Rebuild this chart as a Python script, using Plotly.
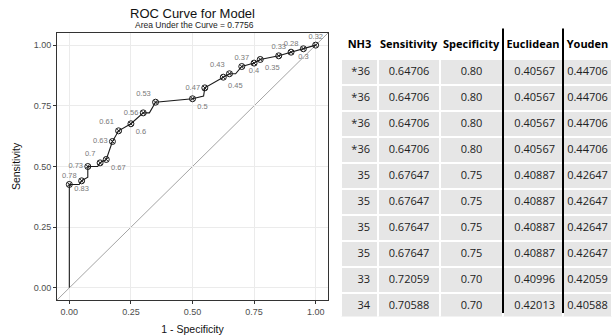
import plotly.graph_objects as go

# ---------------- data ----------------
# ROC path (1 - specificity, sensitivity)
roc_fpr = [0, 0, 0.04, 0.05, 0.075, 0.075, 0.115, 0.125, 0.15, 0.175, 0.2, 0.25, 0.3, 0.325,
           0.35, 0.5, 0.545, 0.55, 0.625, 0.65, 0.675, 0.7, 0.75, 0.775, 0.85, 0.9, 0.95, 1.0]
roc_tpr = [0, 0.426, 0.426, 0.441, 0.456, 0.5, 0.5, 0.515, 0.529, 0.603, 0.647, 0.676, 0.721, 0.721,
           0.765, 0.779, 0.79, 0.824, 0.868, 0.882, 0.882, 0.912, 0.926, 0.941, 0.956, 0.971, 0.985, 1.0]

# cutoff points
pt_fpr = [0, 0.05, 0.075, 0.125, 0.15, 0.175, 0.2, 0.25, 0.3, 0.35, 0.5,
          0.55, 0.625, 0.65, 0.7, 0.75, 0.775, 0.85, 0.9, 0.95, 1.0]
pt_tpr = [0.426, 0.441, 0.5, 0.515, 0.529, 0.603, 0.647, 0.676, 0.721, 0.765, 0.779,
          0.824, 0.868, 0.882, 0.912, 0.926, 0.941, 0.956, 0.971, 0.985, 1.0]
pt_label = ["0.78", "0.83", "0.73", "0.7", "0.67", "0.63", "0.61", "0.6", "0.56", "0.53", "0.5",
            "0.47", "0.45", "0.43", "0.37", "0.4", "0.35", "0.33", "0.28", "0.3", "0.32"]
pt_textpos = ["top center", "bottom center", "middle left", "top left", "bottom right",
              "middle left", "top left", "bottom right", "middle left", "top left", "bottom right",
              "middle left", "bottom right", "top left", "top center", "bottom center", "bottom right",
              "top center", "top center", "bottom center", "top center"]

auc = 0.7756
tick_vals = [0, 0.25, 0.5, 0.75, 1.0]
tick_text = ["0.00", "0.25", "0.50", "0.75", "1.00"]

# table
tbl_header = ["NH3", "Sensitivity", "Specificity", "Euclidean", "Youden"]
tbl_nh3 = ["*36", "*36", "*36", "*36", "35", "35", "35", "35", "33", "34"]
tbl_sens = ["0.64706", "0.64706", "0.64706", "0.64706", "0.67647", "0.67647", "0.67647", "0.67647", "0.72059", "0.70588"]
tbl_spec = ["0.80", "0.80", "0.80", "0.80", "0.75", "0.75", "0.75", "0.75", "0.70", "0.70"]
tbl_eucl = ["0.40567", "0.40567", "0.40567", "0.40567", "0.40887", "0.40887", "0.40887", "0.40887", "0.40996", "0.42013"]
tbl_youd = ["0.44706", "0.44706", "0.44706", "0.44706", "0.42647", "0.42647", "0.42647", "0.42647", "0.42059", "0.40588"]

# ---------------- layout helpers ----------------
W, H = 613, 336
def px_x(p):
    return p / W
def px_y(p):
    return 1 - p / H

x_range = [-0.05, 1.05]
y_range = [-0.05, 1.05]

fig = go.Figure()

# diagonal reference line y = x across the panel
fig.add_shape(type="line", xref="x", yref="y",
              x0=x_range[0], y0=y_range[0], x1=x_range[1], y1=y_range[1],
              line=dict(color="#9a9a9a", width=0.9), layer="below")

fig.add_trace(go.Scatter(x=roc_fpr, y=roc_tpr, mode="lines",
                         line=dict(color="#1a1a1a", width=1.1), hoverinfo="skip",
                         showlegend=False))
fig.add_trace(go.Scatter(x=pt_fpr, y=pt_tpr, mode="markers+text",
                         marker=dict(symbol="circle-x-open", size=6, color="#1a1a1a",
                                     line=dict(width=1, color="#1a1a1a")),
                         text=pt_label, textposition=pt_textpos, cliponaxis=False,
                         textfont=dict(family="Liberation Sans, Arial", size=7.5, color="#7a7a7a"),
                         showlegend=False))

axis_common = dict(range=x_range, tickvals=tick_vals, ticktext=tick_text,
                   showgrid=True, gridcolor="#ebebeb", gridwidth=1, zeroline=False,
                   showline=True, mirror=True, linecolor="#333333", linewidth=1,
                   ticks="outside", ticklen=3, tickcolor="#333333", tickwidth=1,
                   tickfont=dict(family="Liberation Sans, Arial", size=9, color="#4d4d4d"))

fig.update_layout(
    width=W, height=H,
    margin=dict(l=0, r=0, t=0, b=0),
    paper_bgcolor="white", plot_bgcolor="white",
    xaxis=dict(axis_common, domain=[px_x(57), px_x(328)],
               title=dict(text="1 - Specificity", standoff=9,
                          font=dict(family="Liberation Sans, Arial", size=10.5, color="#111111"))),
    yaxis=dict(axis_common, range=y_range, domain=[px_y(300), px_y(33)],
               title=dict(text="Sensitivity", standoff=10,
                          font=dict(family="Liberation Sans, Arial", size=10.5, color="#111111"))),
)

fig.add_annotation(text="ROC Curve for Model", xref="paper", yref="paper",
                   x=px_x(192.5), y=px_y(14), xanchor="center", yanchor="middle", showarrow=False,
                   font=dict(family="Liberation Sans, Arial", size=13, color="#111111"))
fig.add_annotation(text="Area Under the Curve = %.4f" % auc, xref="paper", yref="paper",
                   x=px_x(194), y=px_y(25.5), xanchor="center", yanchor="middle", showarrow=False,
                   font=dict(family="Liberation Sans, Arial", size=8.5, color="#222222"))

# ---------------- table ----------------
n_rows = len(tbl_nh3)
tbl_top = 27.5
hdr_h = 27
row_h = 26
fig.add_trace(go.Table(
    domain=dict(x=[px_x(341), px_x(612)], y=[px_y(tbl_top + hdr_h + row_h * n_rows + 2), px_y(tbl_top)]),
    columnwidth=[37, 62, 63, 60, 49],
    header=dict(values=["<b>%s</b>" % h for h in tbl_header],
                fill_color="white", line=dict(color="white", width=2),
                align="center", height=hdr_h,
                font=dict(family="Open Sans", size=11, color="#000000")),
    cells=dict(values=[tbl_nh3, tbl_sens, tbl_spec, tbl_eucl, tbl_youd],
               fill_color="#e6e6e6", line=dict(color="white", width=2),
               align=["right", "center", "center", "right", "center"], height=row_h,
               font=dict(family="Open Sans", size=11, color="#222222")),
))

for xp in (503, 563):
    fig.add_shape(type="line", xref="paper", yref="paper",
                  x0=px_x(xp), x1=px_x(xp), y0=px_y(313), y1=px_y(28.5),
                  line=dict(color="black", width=2))

fig.write_html("out.html")
